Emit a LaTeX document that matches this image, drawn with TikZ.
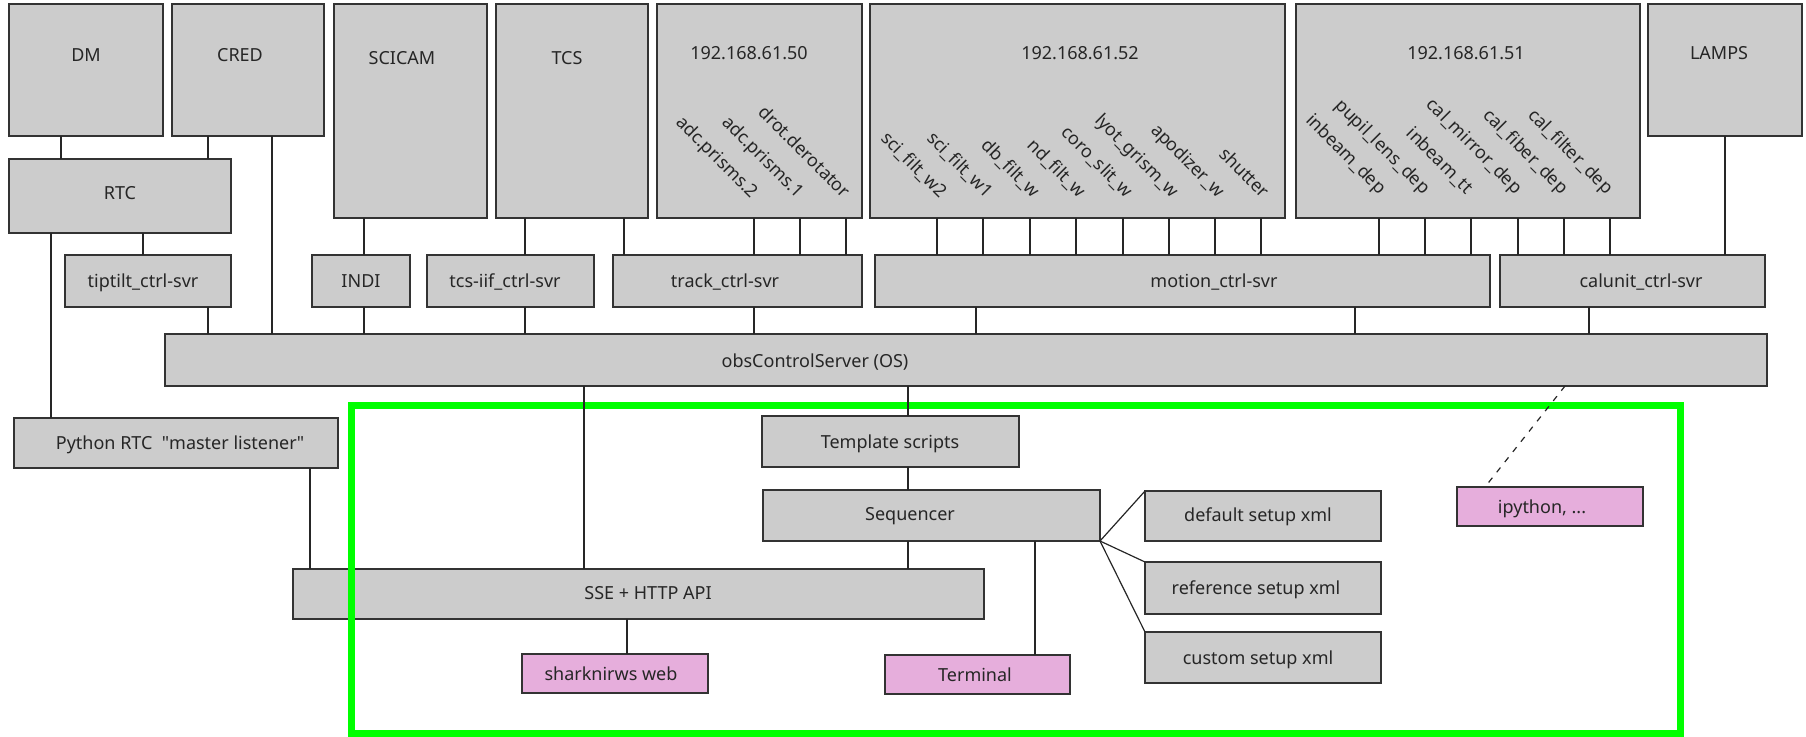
\documentclass[tikz,border=0pt]{standalone}
\usepackage{fontspec}
\setmainfont{Noto Sans}
\definecolor{boxgray}{HTML}{CCCCCC}
\definecolor{boxpink}{HTML}{E6AEDC}
\definecolor{edge}{HTML}{333333}
\definecolor{lime}{HTML}{00FF00}
\newcommand\mkbox[6][]{\node[box,#1,minimum width={(#4-#2)*1pt},minimum height={(#5-#3)*1pt}] (#6) at ({(#2+#4)/2},{(#3+#5)/2}) {};}
\newcommand\mklabel[4]{\node[lbl] (#1) at (#2,{#3+6.5}) {#4};}
\newcommand\mkrot[4]{\node[rlbl] (#1) at (#2,{#3+3}) {#4};}
\begin{document}
\begin{tikzpicture}[x=1pt,y=-1pt,
  box/.style={draw=edge,line width=1.3pt,fill=boxgray,inner sep=0pt,outer sep=0pt},
  pinkbox/.style={fill=boxpink},
  frame/.style={draw=lime,line width=7pt,fill=none},
  lbl/.style={anchor=base,inner sep=0pt,font=\fontsize{18}{20}\selectfont,text=black!85},
  rlbl/.style={anchor=base east,rotate=-45,inner sep=0pt,font=\fontsize{18}{20}\selectfont,text=black!85},
  conn/.style={draw=black!85,line width=1.2pt},
  dconn/.style={conn,dash pattern=on 6pt off 7pt}]
\useasboundingbox (0,0) rectangle (1806,736);
% top row
\mkbox{9}{4}{163}{136}{DM}
\mkbox{172}{4}{324}{136}{CRED}
\mkbox{334}{4}{487}{218}{SCICAM}
\mkbox{496}{4}{648}{218}{TCS}
\mkbox{657}{4}{862}{218}{H50}
\mkbox{870}{4}{1285}{218}{H52}
\mkbox{1296}{4}{1640}{218}{H51}
\mkbox{1648}{4}{1802}{136}{LAMPS}
% second rows
\mkbox{9}{159}{231}{233}{RTC}
\mkbox{65}{255}{231}{307}{tiptilt}
\mkbox{312}{255}{410}{307}{INDI}
\mkbox{427}{255}{594}{307}{tcsiif}
\mkbox{613}{255}{862}{307}{track}
\mkbox{875}{255}{1490}{307}{motion}
\mkbox{1500}{255}{1765}{307}{calunit}
\mkbox{165}{334}{1767}{386}{OS}
% lower part
\mkbox{14}{418}{338}{468}{Python}
\mkbox{762}{416}{1019}{467}{Templ}
\mkbox{763}{490}{1100}{541}{Seq}
\mkbox{293}{569}{984}{619}{SSE}
\mkbox[pinkbox]{522}{654}{708}{693}{web}
\mkbox[pinkbox]{885}{655}{1070}{694}{Term}
\mkbox{1145}{491}{1381}{541}{defxml}
\mkbox{1145}{562}{1381}{614}{refxml}
\mkbox{1145}{632}{1381}{683}{cusxml}
\mkbox[pinkbox]{1457}{487}{1643}{526}{ipy}
\mkbox[frame]{351}{405}{1680}{733}{green}
% labels
\mklabel{tDM}{86}{55}{DM}
\mklabel{tCRED}{240}{55}{CRED}
\mklabel{tSCICAM}{402}{58}{SCICAM}
\mklabel{tTCS}{567}{58}{TCS}
\mklabel{tH50}{749}{53}{192.168.61.50}
\mklabel{tH52}{1080}{53}{192.168.61.52}
\mklabel{tH51}{1466}{53}{192.168.61.51}
\mklabel{tLAMPS}{1719}{53}{LAMPS}
\mklabel{tRTC}{120}{193}{RTC}
\mklabel{ttip}{143}{281}{tiptilt\_ctrl-svr}
\mklabel{tINDI}{361}{281}{INDI}
\mklabel{ttcs}{505}{281}{tcs-iif\_ctrl-svr}
\mklabel{ttrack}{725}{281}{track\_ctrl-svr}
\mklabel{tmotion}{1214}{281}{motion\_ctrl-svr}
\mklabel{tcal}{1641}{281}{calunit\_ctrl-svr}
\mklabel{tOS}{815}{361}{obsControlServer (OS)}
\mklabel{tPy}{180}{443}{Python RTC\ \ \textquotedbl master listener\textquotedbl}
\mklabel{tTempl}{890}{442}{Template scripts}
\mklabel{tSeq}{910}{514}{Sequencer}
\mklabel{tSSE}{648}{593}{SSE + HTTP API}
\mklabel{tweb}{611}{674}{sharknirws web}
\mklabel{tTerm}{975}{675}{Terminal}
\mklabel{tdef}{1258}{515}{default setup xml}
\mklabel{tref}{1256}{588}{reference setup xml}
\mklabel{tcus}{1258}{658}{custom setup xml}
\mklabel{tipy}{1542}{507}{ipython, ...}
% rotated labels
\mkrot{r1}{751}{196}{adc.prisms.2}
\mkrot{r2}{797}{196}{adc.prisms.1}
\mkrot{r3}{843}{196}{drot.derotator}
\mkrot{r4}{940}{196}{sci\_filt\_w2}
\mkrot{r5}{986}{196}{sci\_filt\_w1}
\mkrot{r6}{1033}{196}{db\_filt\_w}
\mkrot{r7}{1079}{196}{nd\_filt\_w}
\mkrot{r8}{1126}{196}{coro\_slit\_w}
\mkrot{r9}{1172}{196}{lyot\_grism\_w}
\mkrot{r10}{1218}{196}{apodizer\_w}
\mkrot{r11}{1262}{196}{shutter}
\mkrot{r12}{1379}{192}{inbeam\_dep}
\mkrot{r13}{1423}{192}{pupil\_lens\_dep}
\mkrot{r14}{1466}{192}{inbeam\_tt}
\mkrot{r15}{1515}{192}{cal\_mirror\_dep}
\mkrot{r16}{1561}{192}{cal\_fiber\_dep}
\mkrot{r17}{1606}{192}{cal\_filter\_dep}
% connectors
\draw[conn] (DM.south -| 61,0) -- (RTC.north -| 61,0);
\draw[conn] (CRED.south -| 208,0) -- (RTC.north -| 208,0);
\draw[conn] (RTC.south -| 143,0) -- (tiptilt.north -| 143,0);
\draw[conn] (RTC.south -| 51,0) -- (Python.north -| 51,0);
\draw[conn] (CRED.south -| 272,0) -- (OS.north -| 272,0);
\draw[conn] (tiptilt.south -| 208,0) -- (OS.north -| 208,0);
\draw[conn] (SCICAM.south -| 364,0) -- (INDI.north -| 364,0);
\draw[conn] (INDI.south -| 364,0) -- (OS.north -| 364,0);
\draw[conn] (TCS.south -| 525,0) -- (tcsiif.north -| 525,0);
\draw[conn] (tcsiif.south -| 525,0) -- (OS.north -| 525,0);
\draw[conn] (TCS.south -| 624,0) -- (track.north -| 624,0);
\foreach \x in {754,800,846} \draw[conn] (H50.south -| \x,0) -- (track.north -| \x,0);
\draw[conn] (track.south -| 754,0) -- (OS.north -| 754,0);
\foreach \x in {937,983,1030,1076,1123,1169,1215,1261} \draw[conn] (H52.south -| \x,0) -- (motion.north -| \x,0);
\foreach \x in {1379,1425,1471} \draw[conn] (H51.south -| \x,0) -- (motion.north -| \x,0);
\foreach \x in {1518,1564,1610} \draw[conn] (H51.south -| \x,0) -- (calunit.north -| \x,0);
\draw[conn] (motion.south -| 976,0) -- (OS.north -| 976,0);
\draw[conn] (motion.south -| 1355,0) -- (OS.north -| 1355,0);
\draw[conn] (LAMPS.south -| 1725,0) -- (calunit.north -| 1725,0);
\draw[conn] (calunit.south -| 1589,0) -- (OS.north -| 1589,0);
\draw[conn] (OS.south -| 584,0) -- (SSE.north -| 584,0);
\draw[conn] (OS.south -| 908,0) -- (Templ.north -| 908,0);
\draw[conn] (Templ.south -| 908,0) -- (Seq.north -| 908,0);
\draw[conn] (Seq.south -| 908,0) -- (SSE.north -| 908,0);
\draw[conn] (Python.south -| 310,0) -- (SSE.north -| 310,0);
\draw[conn] (SSE.south -| 627,0) -- (web.north -| 627,0);
\draw[conn] (Seq.south -| 1035,0) -- (Term.north -| 1035,0);
\draw[conn] (Seq.south east) -- (defxml.north west);
\draw[conn] (Seq.south east) -- (refxml.north west);
\draw[conn] (Seq.south east) -- (cusxml.north west);
\draw[dconn] (OS.south -| 1565,0) -- ([xshift=28pt]ipy.north west);
\end{tikzpicture}
\end{document}
